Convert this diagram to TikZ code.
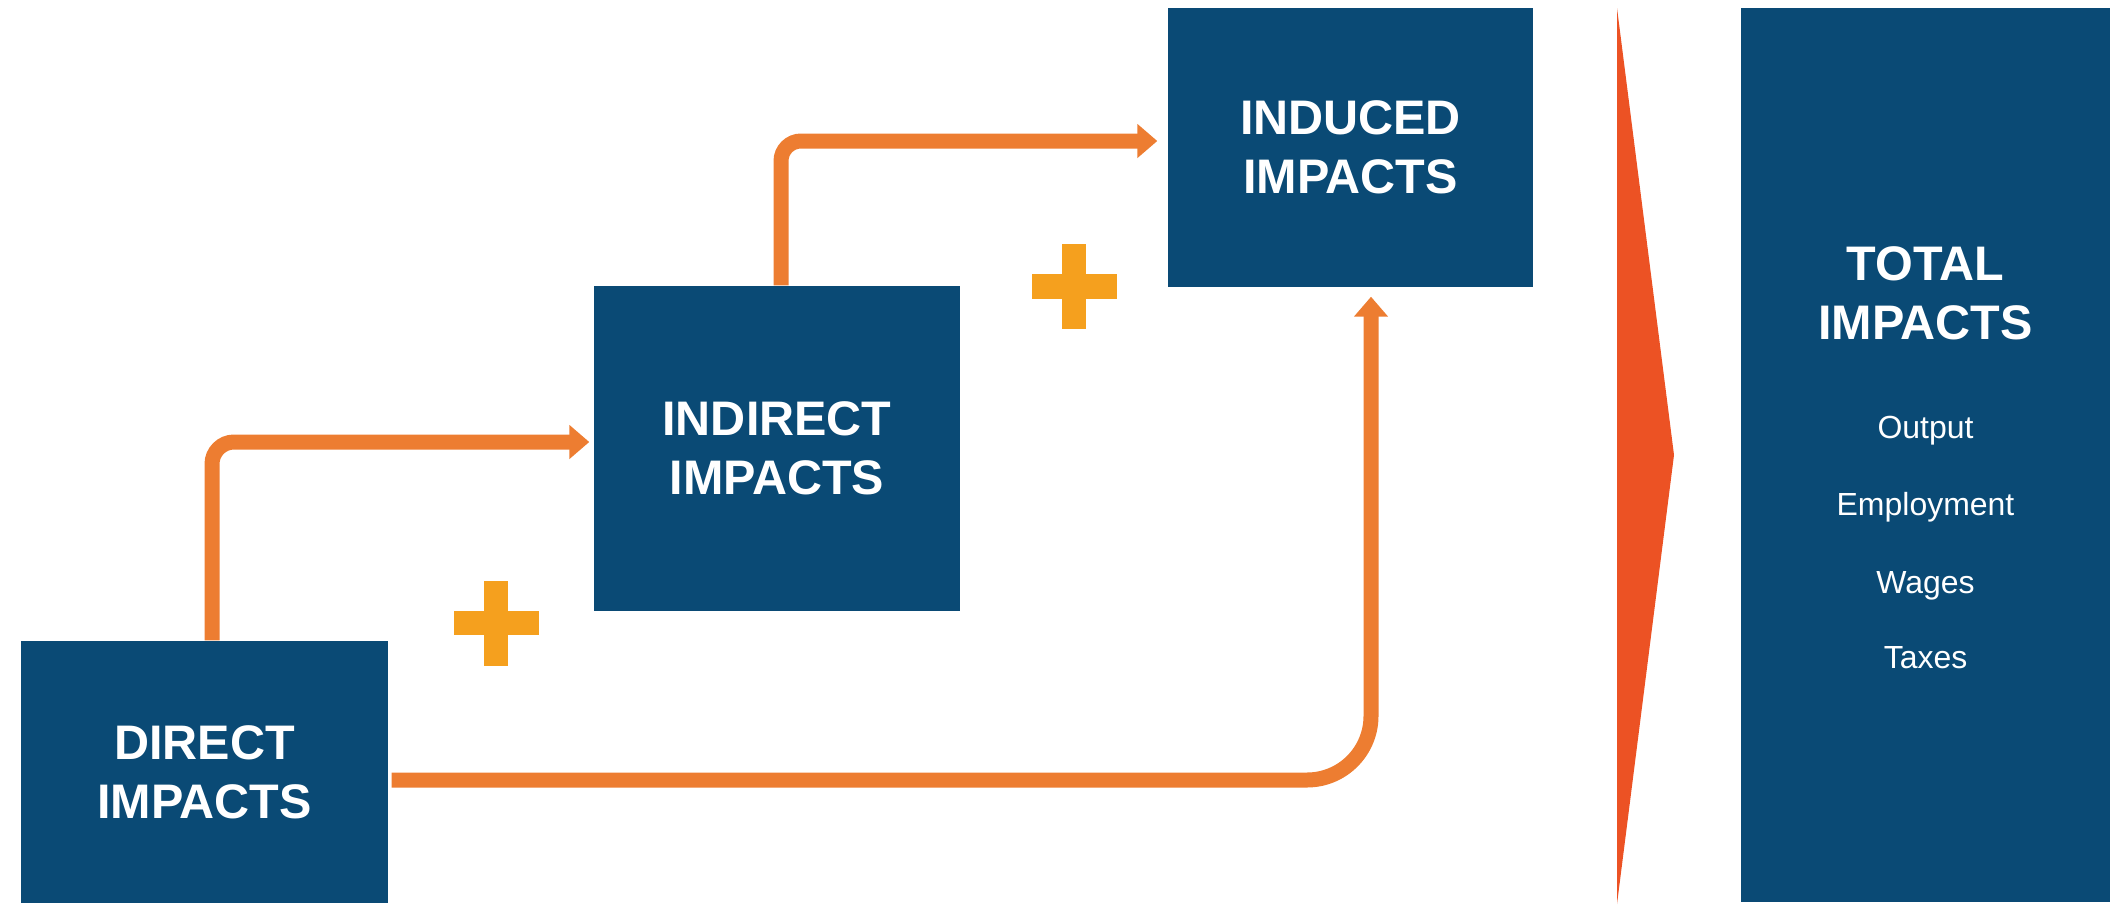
\documentclass[tikz,border=0pt]{standalone}
\usepackage{fontspec}
\setmainfont{Liberation Sans}
\usetikzlibrary{arrows.meta}
\definecolor{prussian}{RGB}{10, 74, 117}
\definecolor{carrot}{RGB}{237, 125, 49}
\definecolor{sunflower}{RGB}{245, 160, 30}
\definecolor{cinnabar}{RGB}{236, 82, 36}

\begin{document}
\begin{tikzpicture}[
        impact/.style={fill=prussian, text=white, inner sep=0pt, align=center,
                       font=\fontsize{13.8}{16.7}\selectfont\bfseries},
        flow/.style={draw=carrot, line width=0.15cm, -{Triangle[width=0.33cm,length=0.2cm]}},
        item/.style={text=white, anchor=base, font=\fontsize{9.1}{10}\selectfont}]
    \useasboundingbox (0.00, 0.00) rectangle (21.13, 9.08);
    \node[impact, minimum width=3.67cm, minimum height=2.62cm] (direct)   at ( 2.045, 1.360) {DIRECT\\IMPACTS};
    \node[impact, minimum width=3.66cm, minimum height=3.25cm] (indirect) at ( 7.770, 4.595) {INDIRECT\\IMPACTS};
    \node[impact, minimum width=3.65cm, minimum height=2.79cm] (induced)  at (13.505, 7.605) {INDUCED\\IMPACTS};
    \node[impact, minimum width=3.69cm, minimum height=8.94cm] (total)    at (19.255, 4.530) {};
    \node[impact, fill=none]                                   (totalhead) at (19.255, 6.145) {TOTAL\\IMPACTS};
    \foreach \name/\yy in {Output/4.70, Employment/3.93, Wages/3.15, Taxes/2.40}
        \node[item] (\name) at (19.255, \yy) {\name};

    \coordinate (bendA) at ( 2.12, 4.66);
    \coordinate (bendB) at ( 7.81, 7.67);
    \coordinate (bendC) at (13.71, 1.28);
    \draw[flow, rounded corners=0.22cm, shorten >=0.04cm] (direct.north -| bendA)   |- (indirect.west |- bendA);
    \draw[flow, rounded corners=0.20cm, shorten >=0.10cm] (indirect.north -| bendB) |- (induced.west |- bendB);
    \draw[flow, rounded corners=0.64cm, shorten >=0.09cm, shorten <=0.03cm] (direct.east |- bendC) -| (induced.south -| bendC);

    \foreach \px/\py in {4.96/2.85, 10.74/6.215} {
        \fill[sunflower] (\px-0.425, \py-0.1225) rectangle (\px+0.425, \py+0.1225);
        \fill[sunflower] (\px-0.1225, \py-0.425) rectangle (\px+0.1225, \py+0.425);
    }
    \fill[cinnabar] (16.17, 9.00) -- (16.74, 4.53) -- (16.17, 0.04) -- cycle;
\end{tikzpicture}
\end{document}
